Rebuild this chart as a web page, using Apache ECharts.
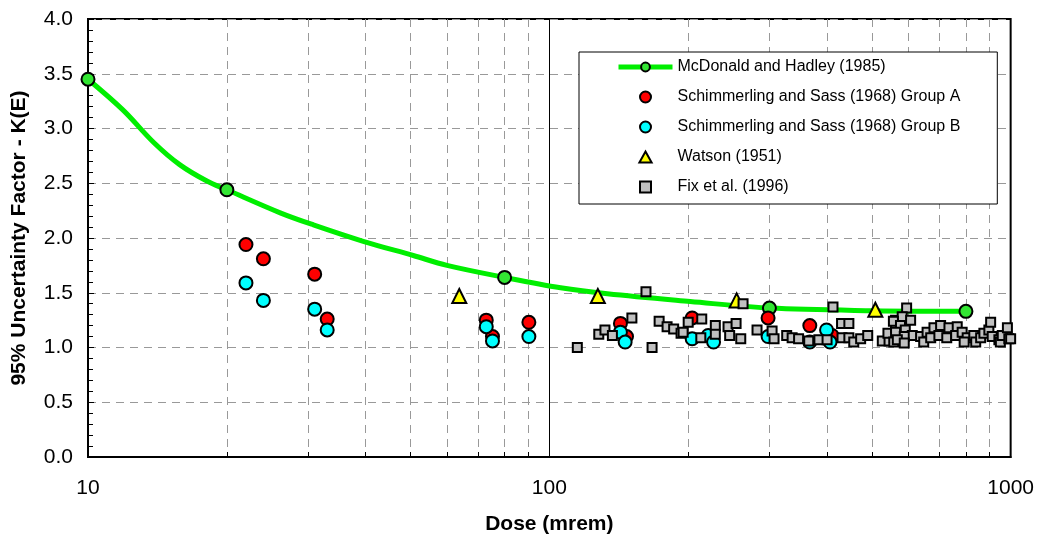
<!DOCTYPE html>
<html>
<head>
<meta charset="utf-8">
<script src="https://cdn.jsdelivr.net/npm/echarts@6/dist/echarts.min.js"></script>
<style>
  html, body { margin: 0; padding: 0; background: #fff; }
  #main { width: 1037px; height: 540px; }
</style>
</head>
<body>
<div id="main"></div>
<script>
// McDonald and Hadley (1985) - points along the drawn curve, and the marked points
var mcdonaldCurve = [
  [10, 3.45], [11.9, 3.17], [13.9, 2.87], [15.8, 2.67], [18.1, 2.52], [20, 2.44],
  [26.1, 2.23], [30.8, 2.12], [39.5, 1.97], [50.7, 1.84], [60, 1.75], [80, 1.64],
  [105.8, 1.545], [133.6, 1.49], [202, 1.42], [300, 1.36], [505, 1.336], [800, 1.33]
];
var mcdonaldPoints = [[10, 3.45], [20, 2.44], [80, 1.64], [300, 1.36], [800, 1.33]];

// Schimmerling and Sass (1968)
var groupA = [
  [22.0, 1.94], [24.0, 1.81], [31.0, 1.67], [33.0, 1.26], [73, 1.25], [75.3, 1.10],
  [90.3, 1.23], [142.6, 1.22], [147, 1.10], [204, 1.27], [298, 1.27], [367, 1.20], [410, 1.11]
];
var groupB = [
  [22.0, 1.59], [24.0, 1.43], [31.0, 1.35], [33.0, 1.16], [73, 1.19], [75.3, 1.06],
  [90.3, 1.10], [142.6, 1.14], [146, 1.05], [204, 1.08], [221, 1.11], [227, 1.05],
  [298, 1.10], [367, 1.05], [399, 1.16], [406, 1.05]
];

// Watson (1951)
var watson = [[63.8, 1.47], [127.4, 1.47], [254.7, 1.43], [509, 1.345]];

// Fix et al. (1996)
var fix = [
  [115, 1.00], [128, 1.12], [132, 1.16], [137, 1.11], [151, 1.27], [162, 1.51], [167, 1.00],
  [173, 1.24], [180, 1.19], [186, 1.17], [193, 1.13], [195, 1.14], [200, 1.23], [213, 1.09],
  [214, 1.26], [229, 1.20], [229, 1.12], [244, 1.19], [246, 1.11], [254, 1.22], [260, 1.08],
  [263, 1.40], [282, 1.16], [304, 1.15], [307, 1.08], [327, 1.11], [336, 1.09], [347, 1.08],
  [365, 1.06], [384, 1.07], [400, 1.07], [412, 1.37], [430, 1.22], [446, 1.22], [431, 1.09],
  [446, 1.09], [457, 1.05], [473, 1.08], [490, 1.11], [527, 1.06], [545, 1.06], [542, 1.13],
  [563, 1.18], [563, 1.25], [568, 1.11], [558, 1.05], [595, 1.36], [582, 1.28], [607, 1.25],
  [557, 1.24], [577, 1.20], [591, 1.16], [563, 1.14], [612, 1.11], [588, 1.10], [568, 1.07],
  [588, 1.04], [638, 1.10], [659, 1.14], [682, 1.18], [705, 1.20], [735, 1.18], [766, 1.19],
  [648, 1.05], [671, 1.09], [699, 1.11], [727, 1.09], [760, 1.11], [785, 1.14], [805, 1.09],
  [793, 1.05], [832, 1.11], [840, 1.05], [861, 1.09], [875, 1.13], [897, 1.16], [905, 1.23],
  [912, 1.10], [943, 1.07], [950, 1.05], [959, 1.11], [984, 1.18], [991, 1.08], [1000, 1.08]
];

var seriesNames = [
  'McDonald and Hadley (1985)',
  'Schimmerling and Sass (1968) Group A',
  'Schimmerling and Sass (1968) Group B',
  'Watson (1951)',
  'Fix et al. (1996)'
];

var FONT = 'Liberation Sans, Arial, Helvetica, sans-serif';

// curve points get no symbol, the marked points get a circle
var lineData = mcdonaldCurve.map(function (p) {
  var marked = mcdonaldPoints.some(function (m) { return m[0] === p[0] && m[1] === p[1]; });
  return marked ? { value: p } : { value: p, symbol: 'none' };
});

var chart = echarts.init(document.getElementById('main'), null, { renderer: 'canvas' });

var dashed = { color: '#999', width: 1, type: [8, 6] };

// square / triangle paths so the legend icons keep their aspect
var triIcon = 'path://M5,0 L10,9 L0,9 Z';
var sqIcon = 'path://M0,0 L10,0 L10,10 L0,10 Z';

var option = {
  backgroundColor: '#fff',
  animation: false,
  textStyle: { fontFamily: FONT },
  grid: {
    left: 88, right: 26, top: 19, bottom: 81,
    show: true, borderColor: '#000', borderWidth: 2
  },
  legend: {
    orient: 'vertical',
    left: 579, top: 52,
    padding: [7, 37, 9, 37],
    itemWidth: 54, itemHeight: 11, itemGap: 14, itemTextGap: 2,
    symbolKeepAspect: true,
    borderColor: '#000', borderWidth: 1,
    backgroundColor: '#fff',
    textStyle: { fontFamily: FONT, fontSize: 16, color: '#000' },
    data: [
      { name: seriesNames[0], lineStyle: { width: 5, color: '#00ee00' } },
      { name: seriesNames[1] },
      { name: seriesNames[2] },
      { name: seriesNames[3], icon: triIcon },
      { name: seriesNames[4], icon: sqIcon }
    ]
  },
  xAxis: {
    type: 'log', logBase: 10, min: 10, max: 1000,
    name: 'Dose (mrem)', nameLocation: 'middle', nameGap: 57,
    nameTextStyle: { fontFamily: FONT, fontSize: 21, fontWeight: 'bold', color: '#000' },
    axisLine: { lineStyle: { color: '#000', width: 2 } },
    axisTick: { inside: true, length: 6, lineStyle: { color: '#000', width: 1 } },
    minorTick: { show: true, splitNumber: 9, length: 5, lineStyle: { color: '#000', width: 1 } },
    axisLabel: {
      fontFamily: FONT, fontSize: 21, color: '#000', margin: 21,
      formatter: function (v) { return String(Math.round(v)); }
    },
    splitLine: { show: true, lineStyle: { color: '#000', width: 1 } },
    minorSplitLine: { show: true, lineStyle: dashed }
  },
  yAxis: {
    type: 'value', min: 0, max: 4, interval: 0.5,
    name: '95% Uncertainty Factor - K(E)', nameLocation: 'middle', nameGap: 58,
    nameTextStyle: { fontFamily: FONT, fontSize: 21, fontWeight: 'bold', color: '#000' },
    axisLine: { show: true, lineStyle: { color: '#000', width: 2 } },
    axisTick: { show: true, inside: true, length: 6, lineStyle: { color: '#000', width: 1 } },
    minorTick: { show: true, splitNumber: 5, length: 5, lineStyle: { color: '#000', width: 1 } },
    axisLabel: {
      fontFamily: FONT, fontSize: 21, color: '#000', margin: 15,
      formatter: function (v) { return v.toFixed(1); }
    },
    splitLine: { show: true, lineStyle: dashed }
  },
  series: [
    {
      name: seriesNames[0],
      type: 'line',
      smooth: 0.35,
      symbol: 'circle',
      symbolSize: 13,
      lineStyle: { color: '#00ee00', width: 5 },
      itemStyle: { color: '#33e633', borderColor: '#000', borderWidth: 2 },
      data: lineData,
      z: 2
    },
    {
      name: seriesNames[1],
      type: 'scatter',
      symbol: 'circle',
      symbolSize: 13,
      itemStyle: { color: '#ff0000', borderColor: '#000', borderWidth: 2, opacity: 1 },
      data: groupA,
      z: 3
    },
    {
      name: seriesNames[2],
      type: 'scatter',
      symbol: 'circle',
      symbolSize: 13,
      itemStyle: { color: '#00ffff', borderColor: '#000', borderWidth: 2, opacity: 1 },
      data: groupB,
      z: 3
    },
    {
      name: seriesNames[3],
      type: 'scatter',
      symbol: 'triangle',
      symbolSize: 14,
      itemStyle: { color: '#ffff00', borderColor: '#000', borderWidth: 2, opacity: 1 },
      data: watson,
      z: 3
    },
    {
      name: seriesNames[4],
      type: 'scatter',
      symbol: 'rect',
      symbolSize: 9,
      itemStyle: { color: '#c0c0c0', borderColor: '#000', borderWidth: 2, opacity: 1 },
      data: fix,
      z: 3
    }
  ]
};

chart.setOption(option);
</script>
</body>
</html>
